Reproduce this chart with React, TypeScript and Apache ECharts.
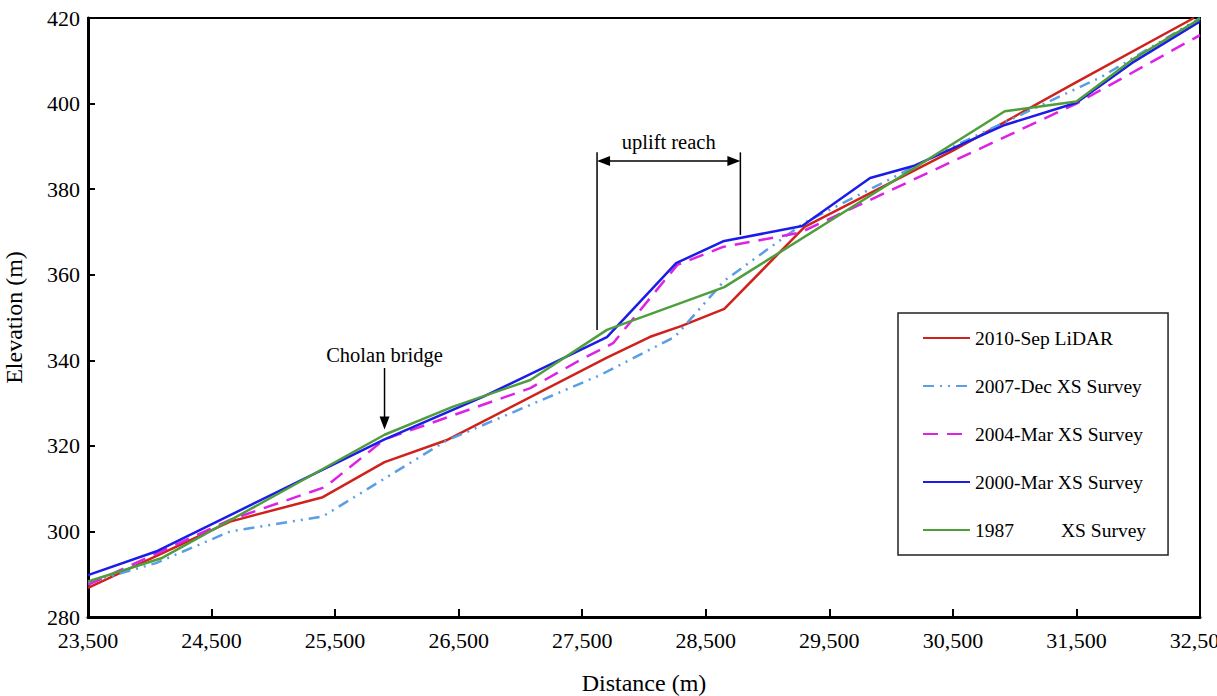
import { useEffect, useRef } from 'react';
import * as echarts from 'echarts';

const FONT = '"Liberation Serif", "Times New Roman", serif';

// Axis ranges and tick steps
const xRange = { min: 23500, max: 32500, step: 1000 };
const yRange = { min: 280, max: 420, step: 20 };

// Longitudinal bed profiles: [distance (m), elevation (m)]
const lidar2010Sep: [number, number][] = [
  [23500, 286.8], [24650, 302.3], [25400, 308.0], [25900, 316.2], [26400, 321.3],
  [27700, 340.6], [28050, 345.5], [28300, 348.0], [28650, 352.0], [29300, 371.2],
  [30500, 389.0], [31500, 405.0], [32450, 420.0],
];

const xsDec2007: [number, number][] = [
  [23500, 288.0], [24050, 292.6], [24650, 300.0], [25400, 303.5], [26400, 321.2],
  [27650, 336.6], [28250, 345.5], [28650, 358.6], [29300, 372.2], [29900, 381.0],
  [30550, 390.6], [31700, 406.2], [32500, 420.0],
];

const xsMar2004: [number, number][] = [
  [23500, 287.5], [24650, 302.7], [25420, 310.4], [25900, 321.5], [27080, 333.5],
  [27480, 340.0], [27750, 344.0], [28270, 362.3], [28640, 366.5], [29260, 369.8],
  [31500, 400.0], [32500, 416.0],
];

const xsMar2000: [number, number][] = [
  [23500, 289.8], [24050, 295.3], [25900, 321.5], [26700, 331.5], [27700, 345.4],
  [28260, 362.7], [28640, 367.8], [29280, 371.4], [29830, 382.6], [30180, 385.4],
  [30920, 395.0], [31500, 400.2], [31950, 409.5], [32500, 419.2],
];

const xs1987: [number, number][] = [
  [23500, 288.3], [24100, 293.8], [25900, 322.6], [26450, 329.1], [27080, 335.4],
  [27700, 347.1], [28650, 357.1], [30920, 398.2], [31500, 400.5], [31950, 410.2],
  [32500, 419.8],
];

const seriesNames = [
  '2010-Sep LiDAR',
  '2007-Dec XS Survey',
  '2004-Mar XS Survey',
  '2000-Mar XS Survey',
  '1987 XS Survey',
];

// Annotation anchors in data units
const cholan = { x: 25900, textY: 341.2, arrowTop: 338.2, arrowTip: 323.8 };
const uplift = {
  x0: 27620, x1: 28780, top: 388.6, bottom0: 347.1, bottom1: 369.3,
  arrowY: 386.6, textY: 391.0,
};

export default function App() {
  const ref = useRef<HTMLDivElement>(null);

  useEffect(() => {
    if (!ref.current) return;
    const chart = echarts.init(ref.current, undefined, { renderer: 'svg' });

    const line = (
      name: string,
      data: [number, number][],
      color: string,
      type: any,
    ) => ({
      name,
      type: 'line',
      data,
      symbol: 'none',
      showSymbol: false,
      lineStyle: { color, width: 2.5, type, cap: 'butt' },
      // no point markers, so the legend shows only the line sample
      itemStyle: { color: 'rgba(0,0,0,0)', borderWidth: 0 },
      z: 2,
    });

    chart.setOption({
      animation: false,
      backgroundColor: '#fff',
      grid: {
        left: 88, right: 17, top: 18, bottom: 79,
        outerBoundsMode: 'none',
        containLabel: false,
        show: true, borderColor: '#000', borderWidth: 2,
      },
      xAxis: {
        type: 'value',
        min: xRange.min, max: xRange.max, interval: xRange.step,
        name: 'Distance (m)',
        nameLocation: 'middle',
        nameGap: 54,
        nameTextStyle: { fontFamily: FONT, fontSize: 24, color: '#000' },
        axisLine: { lineStyle: { color: '#000', width: 3 } },
        axisTick: { inside: true, length: 8, lineStyle: { color: '#000', width: 2 } },
        axisLabel: {
          fontFamily: FONT, fontSize: 22, color: '#000', margin: 12,
          formatter: (v: number) => v.toLocaleString('en-US'),
        },
        splitLine: { show: false },
      },
      yAxis: {
        type: 'value',
        min: yRange.min, max: yRange.max, interval: yRange.step,
        name: 'Elevation (m)',
        nameLocation: 'middle',
        nameGap: 62,
        nameTextStyle: { fontFamily: FONT, fontSize: 24, color: '#000' },
        axisLine: { lineStyle: { color: '#000', width: 3 } },
        axisTick: { inside: true, length: 7, lineStyle: { color: '#000', width: 2 } },
        axisLabel: { fontFamily: FONT, fontSize: 22, color: '#000', margin: 8 },
        splitLine: { show: false },
      },
      legend: {
        data: seriesNames,
        orient: 'vertical',
        left: 898,
        top: 313,
        backgroundColor: '#fff',
        borderColor: '#222',
        borderWidth: 1.5,
        padding: [15, 22, 15, 24],
        itemWidth: 47,
        itemHeight: 14,
        itemGap: 28,
        itemTextGap: 2,
        itemStyle: { opacity: 0 },
        formatter: (name: string) =>
          name === '1987 XS Survey' ? '{a|1987}{b|XS Survey}' : name,
        textStyle: {
          fontFamily: FONT, fontSize: 19.5, color: '#000', lineHeight: 20,
          rich: {
            a: { fontFamily: FONT, fontSize: 19.5, color: '#000', width: 86 },
            b: { fontFamily: FONT, fontSize: 19.5, color: '#000' },
          },
        },
      },
      series: [
        line(seriesNames[0], lidar2010Sep, '#d0221c', 'solid'),
        line(seriesNames[1], xsDec2007, '#5a9ee6', [11, 6, 2, 6, 2, 6]),
        line(seriesNames[2], xsMar2004, '#dd22e6', [15, 9]),
        line(seriesNames[3], xsMar2000, '#1c1ce8', 'solid'),
        line(seriesNames[4], xs1987, '#4f9d3c', 'solid'),
      ],
    });

    const p = (x: number, y: number) =>
      chart.convertToPixel({ gridIndex: 0 }, [x, y]) as number[];

    const stroke = { stroke: '#000', lineWidth: 1.5 };
    const textStyle = (text: string, x: number, y: number) => ({
      text, x, y, fill: '#000', fontFamily: FONT, fontSize: 20.5,
      align: 'center', verticalAlign: 'middle',
    });

    const [cx, cTextY] = p(cholan.x, cholan.textY);
    const [, cTop] = p(cholan.x, cholan.arrowTop);
    const [, cTip] = p(cholan.x, cholan.arrowTip);

    const [ux0, uTop] = p(uplift.x0, uplift.top);
    const [ux1] = p(uplift.x1, uplift.top);
    const [, uBottom0] = p(uplift.x0, uplift.bottom0);
    const [, uBottom1] = p(uplift.x1, uplift.bottom1);
    const [, uArrowY] = p(uplift.x0, uplift.arrowY);
    const [, uTextY] = p(uplift.x0, uplift.textY);
    const head = 13;
    const half = 5;

    chart.setOption({
      graphic: [
        { type: 'text', style: textStyle('Cholan bridge', cx, cTextY), z: 10 },
        { type: 'line', shape: { x1: cx, y1: cTop, x2: cx, y2: cTip - head + 1 }, style: stroke, z: 10 },
        {
          type: 'polygon',
          shape: { points: [[cx - half, cTip - head], [cx + half, cTip - head], [cx, cTip]] },
          style: { fill: '#000' }, z: 10,
        },
        { type: 'line', shape: { x1: ux0, y1: uTop, x2: ux0, y2: uBottom0 }, style: stroke, z: 10 },
        { type: 'line', shape: { x1: ux1, y1: uTop, x2: ux1, y2: uBottom1 }, style: stroke, z: 10 },
        { type: 'line', shape: { x1: ux0 + head - 1, y1: uArrowY, x2: ux1 - head + 1, y2: uArrowY }, style: stroke, z: 10 },
        {
          type: 'polygon',
          shape: { points: [[ux0, uArrowY], [ux0 + head, uArrowY - half], [ux0 + head, uArrowY + half]] },
          style: { fill: '#000' }, z: 10,
        },
        {
          type: 'polygon',
          shape: { points: [[ux1, uArrowY], [ux1 - head, uArrowY - half], [ux1 - head, uArrowY + half]] },
          style: { fill: '#000' }, z: 10,
        },
        { type: 'text', style: textStyle('uplift reach', (ux0 + ux1) / 2, uTextY), z: 10 },
      ],
    });

    return () => chart.dispose();
  }, []);

  return (
    <div
      ref={ref}
      style={{ position: 'fixed', left: 0, top: 0, width: 1217, height: 696, background: '#fff' }}
    />
  );
}
